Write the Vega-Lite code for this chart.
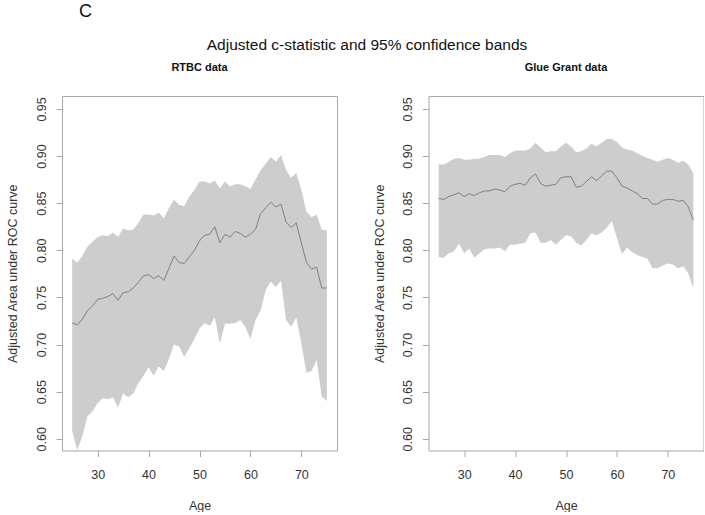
{
  "$schema": "https://vega.github.io/schema/vega-lite/v6.json",
  "background": "white",
  "padding": {"left": 5, "top": 2, "right": 0, "bottom": 0},
  "datasets": {
    "rtbc": [
      {"age":25,"lower":0.608,"mid":0.723,"upper":0.791},
      {"age":26,"lower":0.588,"mid":0.721,"upper":0.787},
      {"age":27,"lower":0.603,"mid":0.727,"upper":0.794},
      {"age":28,"lower":0.624,"mid":0.736,"upper":0.804},
      {"age":29,"lower":0.629,"mid":0.741,"upper":0.809},
      {"age":30,"lower":0.638,"mid":0.748,"upper":0.814},
      {"age":31,"lower":0.643,"mid":0.749,"upper":0.816},
      {"age":32,"lower":0.642,"mid":0.751,"upper":0.815},
      {"age":33,"lower":0.644,"mid":0.754,"upper":0.819},
      {"age":34,"lower":0.633,"mid":0.747,"upper":0.814},
      {"age":35,"lower":0.648,"mid":0.755,"upper":0.823},
      {"age":36,"lower":0.644,"mid":0.756,"upper":0.821},
      {"age":37,"lower":0.648,"mid":0.760,"upper":0.822},
      {"age":38,"lower":0.659,"mid":0.766,"upper":0.829},
      {"age":39,"lower":0.667,"mid":0.773,"upper":0.838},
      {"age":40,"lower":0.676,"mid":0.774,"upper":0.838},
      {"age":41,"lower":0.667,"mid":0.770,"upper":0.837},
      {"age":42,"lower":0.677,"mid":0.773,"upper":0.840},
      {"age":43,"lower":0.672,"mid":0.768,"upper":0.834},
      {"age":44,"lower":0.685,"mid":0.781,"upper":0.845},
      {"age":45,"lower":0.700,"mid":0.794,"upper":0.854},
      {"age":46,"lower":0.698,"mid":0.787,"upper":0.848},
      {"age":47,"lower":0.687,"mid":0.786,"upper":0.847},
      {"age":48,"lower":0.696,"mid":0.793,"upper":0.857},
      {"age":49,"lower":0.706,"mid":0.800,"upper":0.864},
      {"age":50,"lower":0.717,"mid":0.810,"upper":0.873},
      {"age":51,"lower":0.723,"mid":0.816,"upper":0.873},
      {"age":52,"lower":0.720,"mid":0.817,"upper":0.871},
      {"age":53,"lower":0.729,"mid":0.825,"upper":0.874},
      {"age":54,"lower":0.701,"mid":0.808,"upper":0.866},
      {"age":55,"lower":0.722,"mid":0.817,"upper":0.873},
      {"age":56,"lower":0.722,"mid":0.814,"upper":0.868},
      {"age":57,"lower":0.723,"mid":0.820,"upper":0.870},
      {"age":58,"lower":0.726,"mid":0.818,"upper":0.870},
      {"age":59,"lower":0.719,"mid":0.814,"upper":0.868},
      {"age":60,"lower":0.706,"mid":0.817,"upper":0.865},
      {"age":61,"lower":0.726,"mid":0.822,"upper":0.875},
      {"age":62,"lower":0.736,"mid":0.839,"upper":0.885},
      {"age":63,"lower":0.758,"mid":0.845,"upper":0.892},
      {"age":64,"lower":0.767,"mid":0.851,"upper":0.899},
      {"age":65,"lower":0.761,"mid":0.846,"upper":0.894},
      {"age":66,"lower":0.768,"mid":0.849,"upper":0.901},
      {"age":67,"lower":0.726,"mid":0.830,"upper":0.885},
      {"age":68,"lower":0.719,"mid":0.824,"upper":0.877},
      {"age":69,"lower":0.729,"mid":0.829,"upper":0.882},
      {"age":70,"lower":0.701,"mid":0.808,"upper":0.864},
      {"age":71,"lower":0.670,"mid":0.787,"upper":0.841},
      {"age":72,"lower":0.672,"mid":0.780,"upper":0.835},
      {"age":73,"lower":0.684,"mid":0.782,"upper":0.838},
      {"age":74,"lower":0.645,"mid":0.760,"upper":0.822},
      {"age":75,"lower":0.640,"mid":0.760,"upper":0.821}
    ],
    "glue": [
      {"age":25,"lower":0.793,"mid":0.855,"upper":0.891},
      {"age":26,"lower":0.792,"mid":0.854,"upper":0.891},
      {"age":27,"lower":0.797,"mid":0.857,"upper":0.894},
      {"age":28,"lower":0.799,"mid":0.859,"upper":0.897},
      {"age":29,"lower":0.807,"mid":0.861,"upper":0.898},
      {"age":30,"lower":0.797,"mid":0.857,"upper":0.896},
      {"age":31,"lower":0.802,"mid":0.860,"upper":0.896},
      {"age":32,"lower":0.792,"mid":0.858,"upper":0.897},
      {"age":33,"lower":0.797,"mid":0.861,"upper":0.897},
      {"age":34,"lower":0.801,"mid":0.863,"upper":0.899},
      {"age":35,"lower":0.802,"mid":0.863,"upper":0.901},
      {"age":36,"lower":0.802,"mid":0.865,"upper":0.901},
      {"age":37,"lower":0.803,"mid":0.864,"upper":0.901},
      {"age":38,"lower":0.799,"mid":0.862,"upper":0.899},
      {"age":39,"lower":0.806,"mid":0.868,"upper":0.903},
      {"age":40,"lower":0.806,"mid":0.870,"upper":0.906},
      {"age":41,"lower":0.807,"mid":0.871,"upper":0.906},
      {"age":42,"lower":0.808,"mid":0.869,"upper":0.906},
      {"age":43,"lower":0.818,"mid":0.877,"upper":0.908},
      {"age":44,"lower":0.819,"mid":0.881,"upper":0.914},
      {"age":45,"lower":0.808,"mid":0.871,"upper":0.909},
      {"age":46,"lower":0.808,"mid":0.868,"upper":0.904},
      {"age":47,"lower":0.811,"mid":0.869,"upper":0.905},
      {"age":48,"lower":0.806,"mid":0.870,"upper":0.905},
      {"age":49,"lower":0.811,"mid":0.877,"upper":0.910},
      {"age":50,"lower":0.816,"mid":0.878,"upper":0.914},
      {"age":51,"lower":0.815,"mid":0.878,"upper":0.910},
      {"age":52,"lower":0.808,"mid":0.867,"upper":0.904},
      {"age":53,"lower":0.805,"mid":0.868,"upper":0.905},
      {"age":54,"lower":0.811,"mid":0.873,"upper":0.908},
      {"age":55,"lower":0.818,"mid":0.878,"upper":0.913},
      {"age":56,"lower":0.816,"mid":0.874,"upper":0.910},
      {"age":57,"lower":0.819,"mid":0.879,"upper":0.914},
      {"age":58,"lower":0.824,"mid":0.884,"upper":0.918},
      {"age":59,"lower":0.831,"mid":0.884,"upper":0.918},
      {"age":60,"lower":0.813,"mid":0.877,"upper":0.915},
      {"age":61,"lower":0.796,"mid":0.868,"upper":0.909},
      {"age":62,"lower":0.803,"mid":0.866,"upper":0.907},
      {"age":63,"lower":0.798,"mid":0.863,"upper":0.906},
      {"age":64,"lower":0.795,"mid":0.860,"upper":0.903},
      {"age":65,"lower":0.793,"mid":0.855,"upper":0.900},
      {"age":66,"lower":0.791,"mid":0.855,"upper":0.898},
      {"age":67,"lower":0.781,"mid":0.849,"upper":0.896},
      {"age":68,"lower":0.781,"mid":0.849,"upper":0.894},
      {"age":69,"lower":0.784,"mid":0.853,"upper":0.896},
      {"age":70,"lower":0.786,"mid":0.854,"upper":0.898},
      {"age":71,"lower":0.785,"mid":0.854,"upper":0.896},
      {"age":72,"lower":0.781,"mid":0.852,"upper":0.893},
      {"age":73,"lower":0.783,"mid":0.853,"upper":0.895},
      {"age":74,"lower":0.776,"mid":0.846,"upper":0.891},
      {"age":75,"lower":0.760,"mid":0.832,"upper":0.882}
    ]
  },
  "title": {"text": "C", "anchor": "start", "frame": "bounds", "fontSize": 18, "fontWeight": "normal", "color": "#111111", "dx": 73, "offset": 17},
  "vconcat": [
    {
      "title": {"text": "Adjusted c-statistic and 95% confidence bands", "anchor": "middle", "frame": "bounds", "fontSize": 15.5, "fontWeight": "normal", "color": "#111111", "offset": 8.5, "dx": 12},
      "bounds": "flush",
      "spacing": 91.5,
      "hconcat": [
        {
          "width": 275,
          "height": 354.5,
          "title": {"text": "RTBC data", "fontSize": 11, "fontWeight": "bold", "color": "#111111", "anchor": "middle", "offset": 23},
          "data": {"name": "rtbc"},
          "encoding": {
            "x": {"field": "age", "type": "quantitative", "scale": {"domain": [23, 77], "nice": false, "zero": false}, "axis": {"values": [30, 40, 50, 60, 70], "title": "Age"}}
          },
          "layer": [
            {"mark": {"type": "area", "color": "#cdcdcd", "opacity": 1},
             "encoding": {"y": {"field": "lower", "type": "quantitative", "scale": {"domain": [0.5876, 0.9637], "nice": false, "zero": false}, "axis": {"values": [0.6, 0.65, 0.7, 0.75, 0.8, 0.85, 0.9, 0.95], "format": ".2f", "title": "Adjusted Area under ROC curve"}}, "y2": {"field": "upper"}}},
            {"mark": {"type": "line", "color": "#808080", "strokeWidth": 1},
             "encoding": {"y": {"field": "mid", "type": "quantitative"}}}
          ]
        },
        {
          "width": 275,
          "height": 354.5,
          "title": {"text": "Glue Grant data", "fontSize": 11, "fontWeight": "bold", "color": "#111111", "anchor": "middle", "offset": 23},
          "data": {"name": "glue"},
          "encoding": {
            "x": {"field": "age", "type": "quantitative", "scale": {"domain": [23, 77], "nice": false, "zero": false}, "axis": {"values": [30, 40, 50, 60, 70], "title": "Age"}}
          },
          "layer": [
            {"mark": {"type": "area", "color": "#cdcdcd", "opacity": 1},
             "encoding": {"y": {"field": "lower", "type": "quantitative", "scale": {"domain": [0.5876, 0.9637], "nice": false, "zero": false}, "axis": {"values": [0.6, 0.65, 0.7, 0.75, 0.8, 0.85, 0.9, 0.95], "format": ".2f", "title": "Adjusted Area under ROC curve"}}, "y2": {"field": "upper"}}},
            {"mark": {"type": "line", "color": "#808080", "strokeWidth": 1},
             "encoding": {"y": {"field": "mid", "type": "quantitative"}}}
          ]
        }
      ]
    }
  ],
  "config": {
    "font": "Liberation Sans",
    "view": {"stroke": "#a8a8a8", "strokeWidth": 1},
    "axis": {"domain": false, "grid": false, "ticks": true, "tickColor": "#a8a8a8", "tickSize": 6, "labelFont": "Liberation Sans", "labelFontSize": 12.5, "labelColor": "#333333", "titleFont": "Liberation Sans", "titleFontSize": 12.5, "titleFontWeight": "normal", "titleColor": "#333333"},
    "axisX": {"labelPadding": 12, "titlePadding": 18},
    "axisY": {"labelAngle": 270, "labelAlign": "center", "labelBaseline": "bottom", "labelPadding": 8, "titlePadding": 15.5}
  }
}
